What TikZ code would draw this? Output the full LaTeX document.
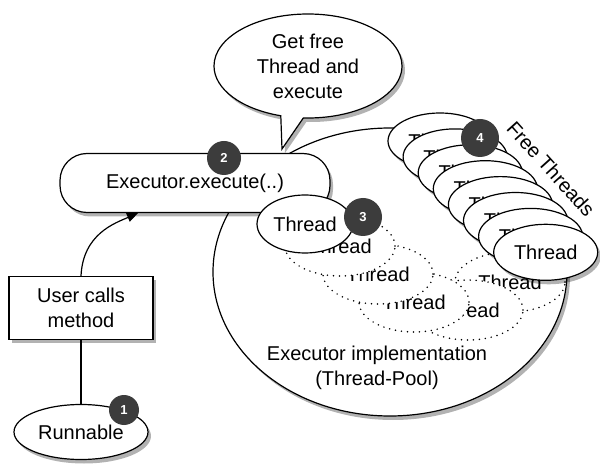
\documentclass[tikz,border=0pt]{standalone}
\usepackage{fontspec}
\setmainfont{Liberation Sans}
\usetikzlibrary{shapes.geometric,shapes.callouts,shadows,arrows.meta,calc}
\definecolor{numgray}{HTML}{3C3C3C}
\begin{document}
\begin{tikzpicture}[x=1pt,y=-1pt,
  every node/.style={font=\fontsize{20}{25}\selectfont, text=black},
  outl/.style={draw=black, line width=1.2pt, fill=white},
  shd/.style={drop shadow={shadow xshift=3pt, shadow yshift=-4pt, opacity=0.3, fill=black}},
  num/.style={circle, fill=numgray, text=white, inner sep=0pt, minimum size=#1, font=\fontsize{13}{13}\selectfont\bfseries},
  freethr/.style={ellipse, outl, minimum width=104pt, minimum height=56pt, inner sep=0pt},
  dotthr/.style={ellipse, draw=black, fill=white, line width=1.7pt, dash pattern=on 0pt off 6pt, line cap=round, minimum width=110pt, minimum height=60pt, inner sep=0pt},
  conn/.style={draw=black, line width=1.2pt}
]
\useasboundingbox (0,0) rectangle (600,470);

% Thread pool
\node[ellipse, outl, shd, minimum width=354pt, minimum height=288pt, inner sep=0pt] (pool) at (390,272) {};

% threads inside the pool (dotted)
\node[dotthr] (d5) at (510,282) {Thread};
\node[dotthr] (d4) at (468,310) {Thread};
\node[dotthr] (d3) at (414,302) {Thread};
\node[dotthr] (d2) at (378,274) {Thread};
\node[dotthr] (d1) at (340,246) {Thread};

\node[align=center] (pooltext) at (377,368) {Executor implementation\\(Thread-Pool)};

% free threads stack
\foreach \k in {0,...,7} {
  \node[freethr, shd] (f\k) at ({440+15.1*\k},{141+15.9*\k}) {Thread};
}
\node[num=38pt] (n4) at (480,138) {4};
\node[rotate=-48, inner sep=1pt] (ftl) at (551,169) {Free Threads};

% executor box
\node[rectangle, rounded corners=27pt, outl, shd, minimum width=270pt, minimum height=59pt] (exec) at (195,183) {Executor.execute(..)};

% selected thread
\node[ellipse, outl, minimum width=96pt, minimum height=58pt, inner sep=0pt] (t3) at (305,224) {Thread};
\node[num=38pt] (n3) at (363,217) {3};

% speech bubble
\node[ellipse callout, outl, shd, minimum width=188pt, minimum height=104pt, inner sep=0pt, align=center,
      callout absolute pointer={(282,149)}, callout pointer arc=14] (bubble) at (308,66) {Get free\\Thread and\\execute};
\node[num=34pt] (n2) at (224,158) {2};

% user side
\node[rectangle, outl, shd, minimum width=144pt, minimum height=63pt, align=center] (user) at (81,308) {User calls\\method};
\node[ellipse, outl, shd, minimum width=134pt, minimum height=55pt, inner sep=0pt] (run) at (81,432) {Runnable};
\node[num=30pt] (n1) at (124,410) {1};

\draw[conn] (user.south) -- (run.north);
\draw[conn, -{Triangle[length=11pt,width=9pt]}] (user.north) .. controls ($(user.north)+(2,-42)$) and ($(exec.south)+(-80,10)$) .. ($(exec.south)+(-57,0)$);
\end{tikzpicture}
\end{document}
